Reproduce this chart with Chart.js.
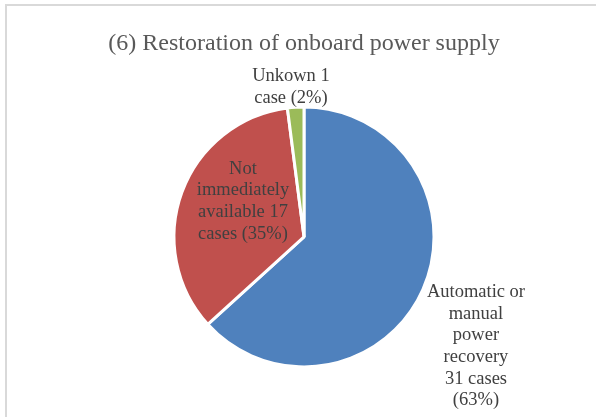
<!DOCTYPE html>
<html>
<head>
<meta charset="utf-8">
<script src="https://cdn.jsdelivr.net/npm/chart.js@4"></script>
<style>
  html, body { margin: 0; padding: 0; background: #fff; }
  body { width: 596px; height: 417px; position: relative; overflow: hidden; }
  #frame { position: absolute; left: 5px; top: 4px; width: 700px; height: 500px; border: 2px solid #d9d9d9; box-sizing: border-box; }
  #wrap { position: absolute; left: 0; top: 0; width: 596px; height: 417px; }
</style>
</head>
<body>
<div id="frame"></div>
<div id="wrap"><canvas id="pieChart" width="596" height="417"></canvas></div>
<script>
// catégories et nombre de cas
const categories = ['Automatic or manual power recovery', 'Not immediately available', 'Unkown'];
const cases = [31, 17, 1];
const colors = ['#4F81BD', '#C0504D', '#9BBB59'];

const total = cases.reduce((a, b) => a + b, 0);

// mots par ligne pour chaque étiquette, et placement autour de la part
const lineWords = [[2, 1, 1, 1, 2, 1], [1, 1, 2, 2], [2, 2]];
const placement = [
  { dist: 1.568, turn: 8.6 },
  { dist: 0.543, turn: 10 },
  { dist: 1.158, turn: -1.3 }
];

function labelLines(i) {
  const v = cases[i];
  const pct = Math.round(v / total * 100);
  const words = `${categories[i]} ${v} ${v === 1 ? 'case' : 'cases'} (${pct}%)`.split(' ');
  const lines = [];
  let k = 0;
  lineWords[i].forEach(n => {
    lines.push(words.slice(k, k + n).join(' '));
    k += n;
  });
  return lines;
}

const sliceLabels = {
  id: 'sliceLabels',
  afterDatasetsDraw(chart) {
    const ctx = chart.ctx;
    const arcs = chart.getDatasetMeta(0).data;
    ctx.save();
    ctx.font = '18.5px "Liberation Serif", "Times New Roman", serif';
    ctx.fillStyle = '#404040';
    ctx.textAlign = 'center';
    ctx.textBaseline = 'middle';
    const lh = 21.7;
    arcs.forEach((arc, i) => {
      const p = arc.getProps(['x', 'y', 'startAngle', 'endAngle', 'outerRadius'], true);
      const a = (p.startAngle + p.endAngle) / 2 + placement[i].turn * Math.PI / 180;
      const r = p.outerRadius * placement[i].dist;
      const cx = p.x + Math.cos(a) * r;
      const cy = p.y + Math.sin(a) * r;
      const lines = labelLines(i);
      const y0 = cy - (lines.length - 1) * lh / 2;
      lines.forEach((t, j) => ctx.fillText(t, cx, y0 + j * lh));
    });
    ctx.restore();
  }
};

new Chart(document.getElementById('pieChart'), {
  type: 'pie',
  data: {
    labels: categories,
    datasets: [{
      data: cases,
      backgroundColor: colors,
      borderColor: '#ffffff',
      borderWidth: 3,
      radius: 130
    }]
  },
  options: {
    responsive: false,
    animation: false,
    layout: { padding: { left: 106, right: 94, top: 0, bottom: 48 } },
    plugins: {
      legend: { display: false },
      tooltip: { enabled: false },
      title: {
        display: true,
        text: '(6) Restoration of onboard power supply',
        color: '#595959',
        font: { family: '"Liberation Serif", "Times New Roman", serif', size: 24, weight: 'normal', lineHeight: 1.2 },
        padding: { top: 29, bottom: 47 }
      }
    }
  },
  plugins: [sliceLabels]
});
</script>
</body>
</html>
